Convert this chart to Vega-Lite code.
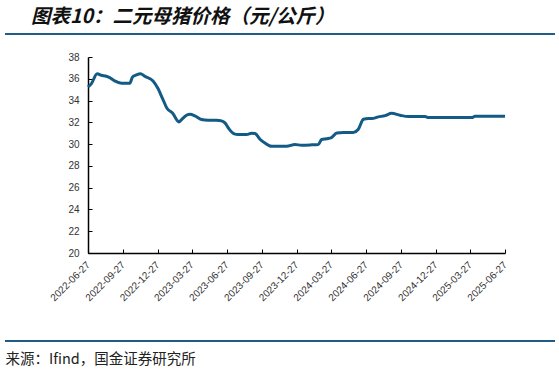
{
  "$schema": "https://vega.github.io/schema/vega-lite/v6.json",
  "width": 417,
  "height": 196,
  "autosize": {"type": "none"},
  "padding": {"top": 57, "left": 88, "right": 54, "bottom": 121},
  "background": "white",
  "config": {"view": {"stroke": null}, "font": "Liberation Sans"},
  "title": {
    "text": "图表10：二元母猪价格（元/公斤）",
    "anchor": "start",
    "frame": "group",
    "font": "Noto Sans CJK SC",
    "fontSize": 19.5,
    "fontWeight": "bold",
    "fontStyle": "italic",
    "color": "#111111",
    "baseline": "alphabetic",
    "dx": -57,
    "dy": 19,
    "offset": 10
  },
  "resolve": {"scale": {"y": "independent"}},
  "layer": [
    {
      "data": {"values": [
        {"date": "2022-06-27", "price": 35.25},
        {"date": "2022-07-06", "price": 35.56},
        {"date": "2022-07-21", "price": 36.47},
        {"date": "2022-08-01", "price": 36.32},
        {"date": "2022-08-14", "price": 36.23},
        {"date": "2022-08-23", "price": 36.1},
        {"date": "2022-09-05", "price": 35.8},
        {"date": "2022-09-23", "price": 35.6},
        {"date": "2022-10-15", "price": 35.6},
        {"date": "2022-10-22", "price": 36.17},
        {"date": "2022-11-01", "price": 36.35},
        {"date": "2022-11-12", "price": 36.47},
        {"date": "2022-11-23", "price": 36.23},
        {"date": "2022-12-15", "price": 35.8},
        {"date": "2022-12-28", "price": 35.1},
        {"date": "2023-01-09", "price": 34.18},
        {"date": "2023-01-21", "price": 33.27},
        {"date": "2023-02-04", "price": 32.86},
        {"date": "2023-02-21", "price": 32.04},
        {"date": "2023-02-28", "price": 32.26},
        {"date": "2023-03-13", "price": 32.65},
        {"date": "2023-03-22", "price": 32.74},
        {"date": "2023-04-04", "price": 32.6},
        {"date": "2023-04-21", "price": 32.26},
        {"date": "2023-05-09", "price": 32.2},
        {"date": "2023-05-31", "price": 32.2},
        {"date": "2023-06-13", "price": 32.13},
        {"date": "2023-06-22", "price": 31.95},
        {"date": "2023-07-02", "price": 31.43},
        {"date": "2023-07-15", "price": 30.97},
        {"date": "2023-07-27", "price": 30.88},
        {"date": "2023-08-18", "price": 30.88},
        {"date": "2023-08-31", "price": 31.0},
        {"date": "2023-09-09", "price": 30.97},
        {"date": "2023-09-22", "price": 30.45},
        {"date": "2023-10-05", "price": 30.1},
        {"date": "2023-10-23", "price": 29.8},
        {"date": "2023-12-01", "price": 29.8},
        {"date": "2023-12-23", "price": 29.96},
        {"date": "2024-01-09", "price": 29.9},
        {"date": "2024-02-05", "price": 29.93},
        {"date": "2024-02-22", "price": 29.96},
        {"date": "2024-03-02", "price": 30.42},
        {"date": "2024-03-15", "price": 30.5},
        {"date": "2024-03-28", "price": 30.6},
        {"date": "2024-04-11", "price": 31.03},
        {"date": "2024-04-28", "price": 31.06},
        {"date": "2024-05-24", "price": 31.06},
        {"date": "2024-06-06", "price": 31.34},
        {"date": "2024-06-20", "price": 32.28},
        {"date": "2024-07-03", "price": 32.35},
        {"date": "2024-07-12", "price": 32.35},
        {"date": "2024-07-29", "price": 32.5},
        {"date": "2024-08-16", "price": 32.62},
        {"date": "2024-09-02", "price": 32.83},
        {"date": "2024-09-24", "price": 32.65},
        {"date": "2024-10-16", "price": 32.53},
        {"date": "2024-11-29", "price": 32.53},
        {"date": "2024-12-08", "price": 32.44},
        {"date": "2025-04-01", "price": 32.44},
        {"date": "2025-04-09", "price": 32.56},
        {"date": "2025-06-27", "price": 32.56}
      ]},
      "mark": {"type": "line", "color": "#135b85", "strokeWidth": 3, "interpolate": "monotone"},
      "encoding": {
        "x": {
          "field": "date",
          "type": "temporal",
          "scale": {"type": "utc", "domain": [{"year": 2022, "month": 6, "date": 27, "utc": true}, {"year": 2025, "month": 6, "date": 27, "utc": true}]},
          "axis": {
            "values": [
              {"year": 2022, "month": 6, "date": 27, "utc": true},
              {"year": 2022, "month": 9, "date": 27, "utc": true},
              {"year": 2022, "month": 12, "date": 27, "utc": true},
              {"year": 2023, "month": 3, "date": 27, "utc": true},
              {"year": 2023, "month": 6, "date": 27, "utc": true},
              {"year": 2023, "month": 9, "date": 27, "utc": true},
              {"year": 2023, "month": 12, "date": 27, "utc": true},
              {"year": 2024, "month": 3, "date": 27, "utc": true},
              {"year": 2024, "month": 6, "date": 27, "utc": true},
              {"year": 2024, "month": 9, "date": 27, "utc": true},
              {"year": 2024, "month": 12, "date": 27, "utc": true},
              {"year": 2025, "month": 3, "date": 27, "utc": true},
              {"year": 2025, "month": 6, "date": 27, "utc": true}
            ],
            "format": "%Y-%m-%d",
            "labelAngle": -45,
            "labelAlign": "right",
            "labelBaseline": "middle",
            "labelFontSize": 10,
            "labelColor": "#333333",
            "labelPadding": 14,
            "labelFlush": false,
            "labelOverlap": false,
            "domainColor": "#000000",
            "domainWidth": 1.5,
            "tickColor": "#000000",
            "tickSize": -4,
            "grid": false,
            "title": "来源：Ifind，国金证券研究所",
            "titleFont": "Noto Sans CJK SC",
            "titleFontSize": 14.5,
            "titleFontWeight": "normal",
            "titleColor": "#222222",
            "titleAnchor": "start",
            "titleAlign": "left",
            "titleBaseline": "middle",
            "titleX": -83,
            "titleY": 106
          }
        },
        "y": {
          "field": "price",
          "type": "quantitative",
          "scale": {"domain": [20, 38], "nice": false, "zero": false},
          "axis": {
            "values": [20, 22, 24, 26, 28, 30, 32, 34, 36, 38],
            "labelFontSize": 10,
            "labelColor": "#333333",
            "labelPadding": 13,
            "domainColor": "#000000",
            "domainWidth": 1.5,
            "tickColor": "#000000",
            "tickSize": -4,
            "grid": false,
            "title": null
          }
        }
      }
    },
    {
      "data": {"values": [{"pos": "top"}, {"pos": "bottom"}]},
      "mark": {"type": "rule", "color": "#1f5d88", "strokeWidth": 2},
      "encoding": {
        "x": {"value": -83},
        "x2": {"value": 467},
        "y": {"field": "pos", "type": "nominal", "scale": {"type": "point", "padding": 0, "domain": ["top", "bottom"], "range": [-23, 284]}, "axis": null}
      }
    }
  ]
}
